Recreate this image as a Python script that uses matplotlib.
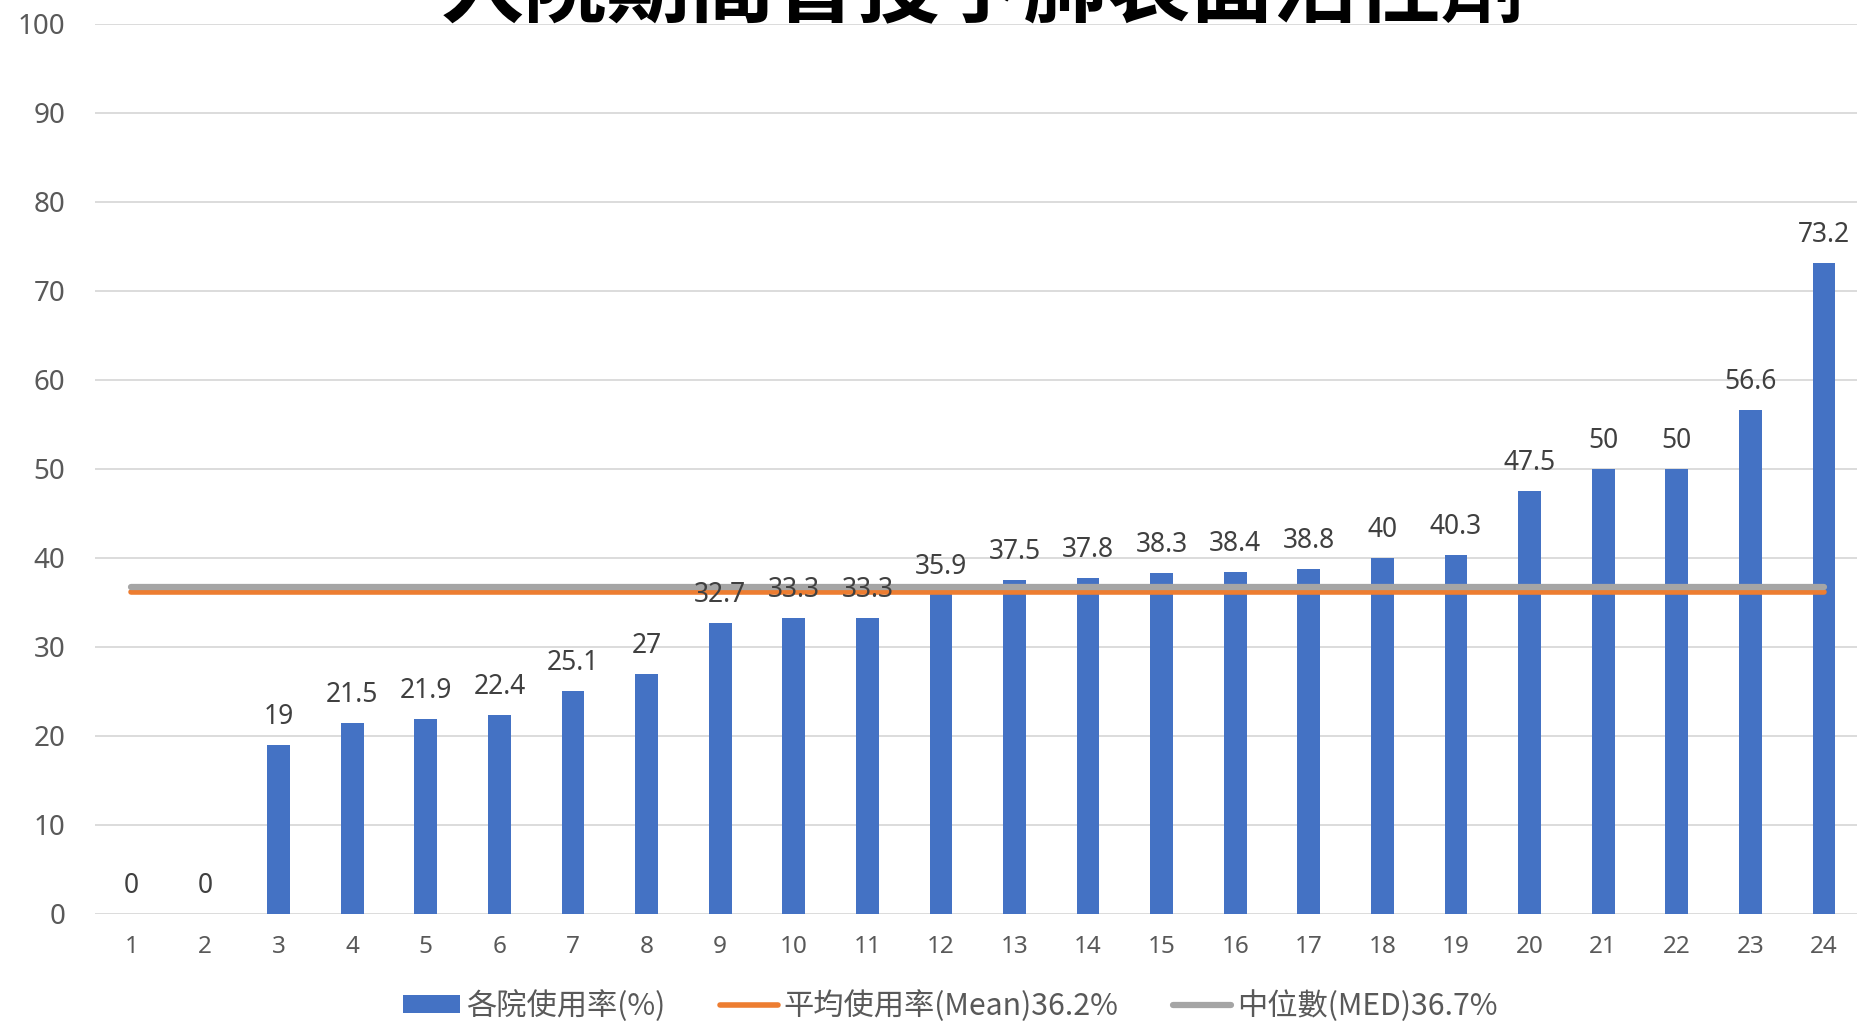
import numpy as np
import matplotlib
matplotlib.use('Agg')
from matplotlib import pyplot as plt
from matplotlib.patches import Patch
from matplotlib.lines import Line2D

# data
hospitals = list(range(1, 25))
usage = [0, 0, 19, 21.5, 21.9, 22.4, 25.1, 27, 32.7, 33.3, 33.3, 35.9,
         37.5, 37.8, 38.3, 38.4, 38.8, 40, 40.3, 47.5, 50, 50, 56.6, 73.2]
mean_val = 36.2
median_val = 36.7

title = '入院期間曾投予肺表面活性劑'
bar_label = '各院使用率(%)'
mean_label = '平均使用率(Mean)36.2%'
median_label = '中位數(MED)36.7%'

plt.rcParams['font.family'] = ['Noto Sans', 'DejaVu Sans']
cjk = ['Noto Sans CJK TC', 'DejaVu Sans']
blue = '#4472C4'
orange = '#ED7D31'
gray = '#A5A5A5'

fig = plt.figure(figsize=(18.57, 10.21), dpi=100)
ax = fig.add_axes([0.051, 0.1048, 0.951, 0.8717])

x = np.arange(len(hospitals))
ax.bar(x, usage, width=0.31, color=blue, zorder=2)

ax.plot([x[0], x[-1]], [mean_val, mean_val], color=orange, lw=4,
        solid_capstyle='round', zorder=3)
ax.plot([x[0], x[-1]], [median_val, median_val], color=gray, lw=4.5,
        solid_capstyle='round', zorder=4)

# value labels sit on top of the reference lines
for xi, v in zip(x, usage):
    ax.annotate(f'{v:g}', (xi, v), xytext=(0, 15), textcoords='offset points',
                ha='center', va='baseline', fontsize=19, color='#404040',
                zorder=5)

ax.set_xlim(-0.5, len(hospitals) - 0.5)
ax.set_ylim(0, 100)
ax.set_yticks(range(0, 101, 10))
ax.set_xticks(x)
ax.set_xticklabels([str(h) for h in hospitals])
ax.tick_params(axis='y', length=0, pad=21, labelsize=20, labelcolor='#595959')
ax.tick_params(axis='x', length=0, pad=15, labelsize=17.5, labelcolor='#595959')
ax.grid(axis='y', color='#D9D9D9', lw=1.3, zorder=0)
ax.set_axisbelow(True)
for s in ax.spines.values():
    s.set_visible(False)

fig.text(983 / 1857, 1 - 16 / 1021, title, ha='center', va='baseline',
         fontsize=60, fontweight='bold', family=cjk, color='black')

handles = [Patch(facecolor=blue, edgecolor='none'),
           Line2D([], [], color=orange, lw=4, solid_capstyle='round'),
           Line2D([], [], color=gray, lw=4.5, solid_capstyle='round')]
fig.legend(handles, [bar_label, mean_label, median_label], ncol=3,
           loc='center', bbox_to_anchor=(950 / 1857, 1 - 1006 / 1021),
           frameon=False, prop={'family': cjk, 'size': 21.8},
           labelcolor='#595959', handlelength=1.9, handleheight=0.55,
           handletextpad=0.2, columnspacing=1.8)

fig.savefig('out.png', dpi=100)
